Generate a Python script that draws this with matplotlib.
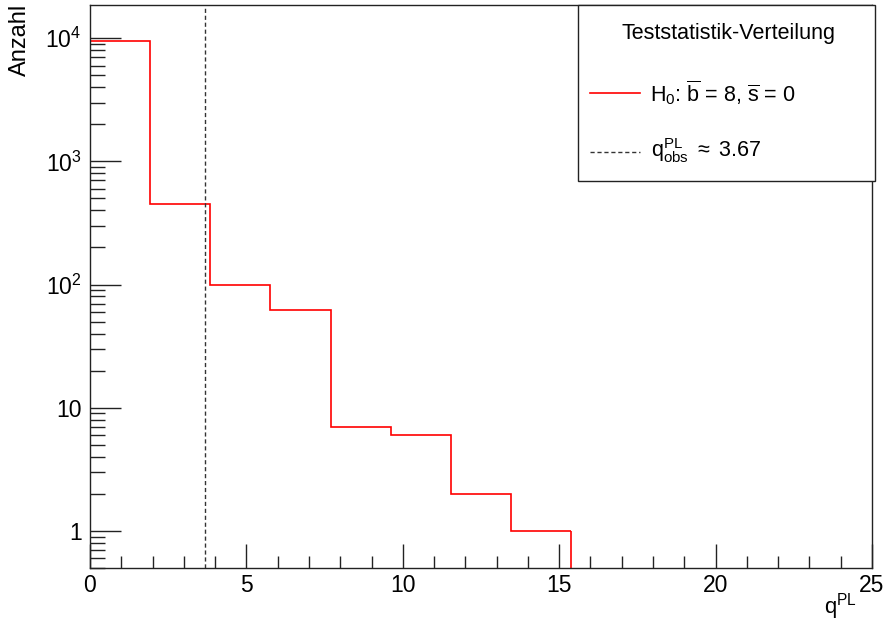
import numpy as np
import matplotlib
matplotlib.use("Agg")
import matplotlib.pyplot as plt
from matplotlib.lines import Line2D
from matplotlib.patches import Rectangle
from matplotlib.ticker import FixedLocator, FixedFormatter, LogLocator, MultipleLocator

plt.rcParams['font.family'] = ['Liberation Sans', 'DejaVu Sans']
plt.rcParams['mathtext.fontset'] = 'custom'
plt.rcParams['mathtext.rm'] = 'Liberation Sans'
plt.rcParams['mathtext.it'] = 'Liberation Sans'
plt.rcParams['mathtext.sf'] = 'Liberation Sans'

# histogram of the test statistic (13 bins from 0 to 25, only non-empty bins listed)
n_bins = 13
x_range = (0, 25)
counts = [9500, 450, 100, 62, 7, 6, 2, 1]
q_obs = 3.67

y_ticks = [1, 10, 100, 1000, 10000]
y_ticklabels = ["1", "10", r"$10^{2}$", r"$10^{3}$", r"$10^{4}$"]

edges = np.linspace(x_range[0], x_range[1], n_bins + 1)[:len(counts) + 1]
ylo, yhi = 0.5, 1.86e4

fig = plt.figure(figsize=(8.87, 6.23), dpi=100)
ax = fig.add_axes([90 / 887, 1 - 568 / 623, 782 / 887, 563 / 623])

ax.stairs(counts, edges, baseline=None, color='#ff0000', lw=1.2)
ax.vlines(edges[-1], ylo, counts[-1], color='#ff0000', lw=1.2)
ax.axvline(q_obs, color='#333333', lw=1.0, ls=(0, (3, 2)))

ax.set_yscale('log')
ax.set_xlim(*x_range)
ax.set_ylim(ylo, yhi)

ax.xaxis.set_major_locator(MultipleLocator(5))
ax.xaxis.set_minor_locator(MultipleLocator(1))
ax.yaxis.set_major_locator(FixedLocator(y_ticks))
ax.yaxis.set_major_formatter(FixedFormatter(y_ticklabels))
ax.yaxis.set_minor_locator(LogLocator(base=10, subs=np.arange(2, 10)))
ax.yaxis.set_minor_formatter(plt.NullFormatter())

ax.tick_params(axis='both', which='both', direction='in', top=False, right=False,
               labelsize=16.5, width=1.0, color='#222222')
ax.tick_params(axis='x', which='major', length=17, pad=4)
ax.tick_params(axis='x', which='minor', length=9)
ax.tick_params(axis='y', which='major', length=22, pad=6)
ax.tick_params(axis='y', which='minor', length=11)
for sp in ax.spines.values():
    sp.set_linewidth(1.0)
    sp.set_color('#222222')

fig.text(20 / 887, 1 - 4 / 623, "Anzahl", rotation=90, ha='center', va='top', fontsize=17)
fig.text(857 / 887, 1 - 622 / 623, r"q$^{PL}$", ha='right', va='bottom', fontsize=16)

# legend box drawn by hand (ROOT TLegend look)
lx0, lx1, ly0, ly1 = 578, 875, 181, 5
fig.patches.append(Rectangle((lx0 / 887, 1 - ly0 / 623), (lx1 - lx0) / 887, (ly0 - ly1) / 623,
                             transform=fig.transFigure, facecolor='white',
                             edgecolor='#222222', lw=1.0, zorder=5))
fig.text(729 / 887, 1 - 33 / 623, "Teststatistik-Verteilung", ha='center', va='center',
         fontsize=15.5, zorder=6)
fig.add_artist(Line2D([590 / 887, 640 / 887], [1 - 93 / 623] * 2, transform=fig.transFigure,
                      color='#ff0000', lw=1.2, zorder=6))
fig.text(650 / 887, 1 - 93 / 623, r"H$_{0}$: $\overline{\mathrm{b}}$ = 8, $\overline{\mathrm{s}}$ = 0",
         ha='left', va='center', fontsize=15.5, zorder=6)
fig.add_artist(Line2D([590 / 887, 640 / 887], [1 - 152 / 623] * 2, transform=fig.transFigure,
                      color='#333333', lw=1.0, ls=(0, (3, 2)), zorder=6))
fig.text(651 / 887, 1 - 151 / 623, r"q$^{PL}_{obs}$ $\approx$ 3.67",
         ha='left', va='center', fontsize=15.5, zorder=6)

fig.savefig("out.png", dpi=100)
